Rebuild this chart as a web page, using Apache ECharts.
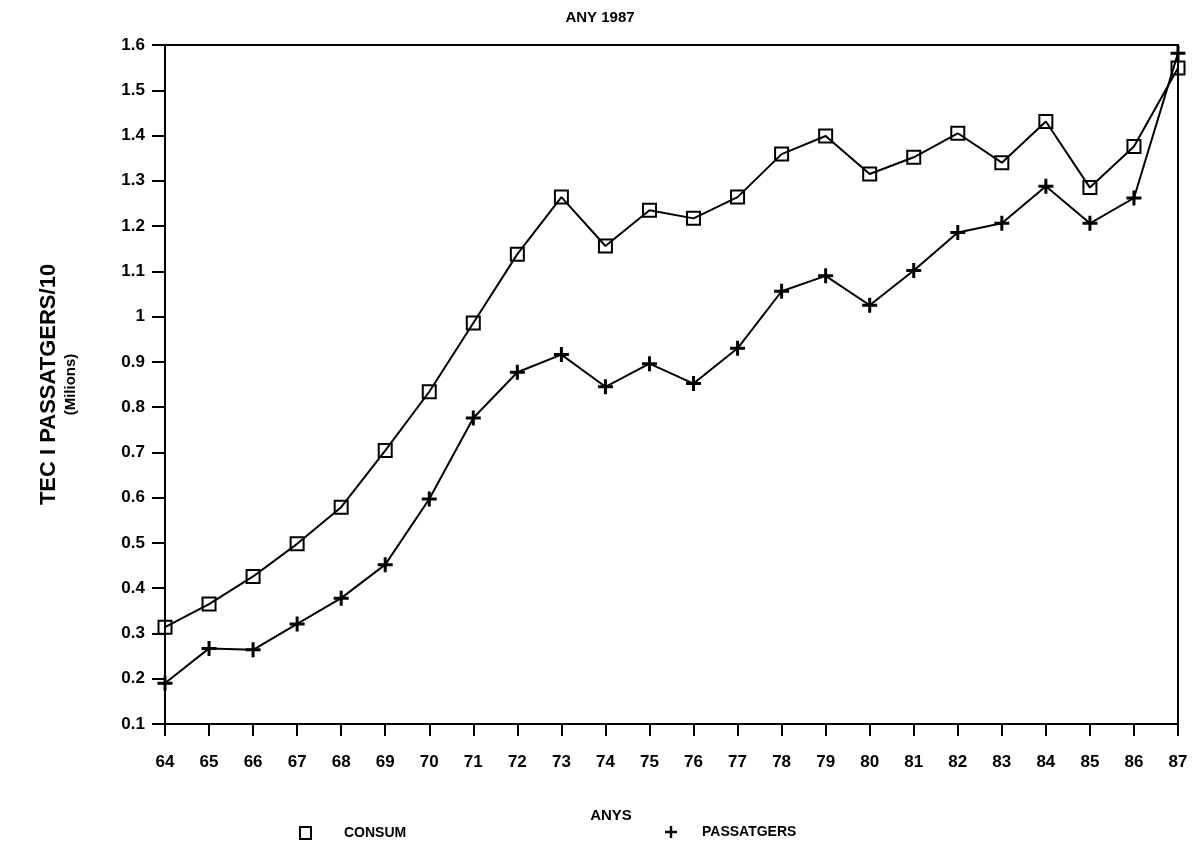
<!DOCTYPE html>
<html>
<head>
<meta charset="utf-8">
<script src="https://cdn.jsdelivr.net/npm/echarts@6/dist/echarts.min.js"></script>
<style>html,body{margin:0;padding:0;background:#fff}#c{width:1200px;height:841px}</style>
</head>
<body>
<div id="c"></div>
<script>
const years = ['64','65','66','67','68','69','70','71','72','73','74','75','76','77','78','79','80','81','82','83','84','85','86','87'];
const consum = [0.314, 0.365, 0.426, 0.498, 0.579, 0.704, 0.834, 0.986, 1.138, 1.264, 1.156, 1.235, 1.217, 1.264, 1.359, 1.399, 1.315, 1.352, 1.405, 1.340, 1.431, 1.285, 1.376, 1.549];
const passatgers = [0.190, 0.267, 0.264, 0.321, 0.378, 0.452, 0.597, 0.776, 0.877, 0.916, 0.845, 0.896, 0.852, 0.930, 1.056, 1.090, 1.025, 1.102, 1.186, 1.206, 1.288, 1.206, 1.262, 1.582];
const titleText = 'ANY 1987';
const xName = 'ANYS';
const yNameLine1 = 'TEC I PASSATGERS/10';
const yNameLine2 = '(Milions)';

const FONT = "'Liberation Sans Narrow', 'Liberation Sans', Arial, sans-serif";
const PLUS = 'path://M4,0H6V4H10V6H6V10H4V6H0V4H4Z';

const chart = echarts.init(document.getElementById('c'));
chart.setOption({
  animation: false,
  backgroundColor: '#fff',
  title: {
    text: titleText, left: 'center', top: 5,
    textStyle: { fontFamily: FONT, fontSize: 15, fontWeight: 'bold', color: '#000' }
  },
  legend: [
    {
      left: 294, top: 821, itemWidth: 11, itemHeight: 12,
      data: [{ name: 'CONSUM', icon: 'rect' }],
      itemStyle: { color: 'transparent', borderColor: '#000', borderWidth: 2 },
      textStyle: { fontFamily: FONT, fontSize: 14, fontWeight: 'bold', color: '#000', padding: [0, 0, 0, 28] }
    },
    {
      left: 660, top: 820, itemWidth: 12, itemHeight: 13,
      data: [{ name: 'PASSATGERS', icon: PLUS }],
      itemStyle: { color: '#000', borderWidth: 0 },
      textStyle: { fontFamily: FONT, fontSize: 14, fontWeight: 'bold', color: '#000', padding: [0, 0, 0, 20] }
    }
  ],
  grid: {
    left: 165, right: 22, top: 45, bottom: 117,
    show: true, borderColor: '#000', borderWidth: 2, backgroundColor: 'transparent'
  },
  xAxis: {
    type: 'category', data: years, boundaryGap: false,
    name: xName, nameLocation: 'middle', nameGap: 84,
    nameTextStyle: { fontFamily: FONT, fontSize: 15, fontWeight: 'bold', color: '#000', padding: [0, 121, 0, 0] },
    axisLine: { lineStyle: { color: '#000', width: 2 } },
    axisTick: { length: 12, lineStyle: { color: '#000', width: 2 }, alignWithLabel: true },
    axisLabel: { margin: 30, fontFamily: FONT, fontSize: 17, fontWeight: 'bold', color: '#000', interval: 0 },
    splitLine: { show: false }
  },
  yAxis: {
    type: 'value', min: 0.1, max: 1.6, interval: 0.1,
    name: '{a|' + yNameLine1 + '}\n{b|' + yNameLine2 + '}',
    nameLocation: 'middle', nameGap: 84, nameRotate: 90,
    nameTextStyle: {
      fontFamily: FONT, fontWeight: 'bold', color: '#000',
      rich: {
        a: { fontFamily: FONT, fontSize: 22, fontWeight: 'bold', color: '#000', lineHeight: 24 },
        b: { fontFamily: FONT, fontSize: 15, fontWeight: 'bold', color: '#000', lineHeight: 20 }
      }
    },
    axisLine: { show: true, lineStyle: { color: '#000', width: 2 } },
    axisTick: { show: true, length: 13, lineStyle: { color: '#000', width: 2 } },
    axisLabel: { margin: 20, fontFamily: FONT, fontSize: 17, fontWeight: 'bold', color: '#000' },
    splitLine: { show: false }
  },
  series: [
    {
      name: 'CONSUM', type: 'line', data: consum,
      symbol: 'rect', symbolSize: 13, showAllSymbol: true,
      lineStyle: { color: '#000', width: 2 },
      itemStyle: { color: 'transparent', borderColor: '#000', borderWidth: 2 }
    },
    {
      name: 'PASSATGERS', type: 'line', data: passatgers,
      symbol: PLUS, symbolSize: 15, showAllSymbol: true,
      lineStyle: { color: '#000', width: 2 },
      itemStyle: { color: '#000', borderWidth: 0 }
    }
  ]
});
</script>
</body>
</html>
